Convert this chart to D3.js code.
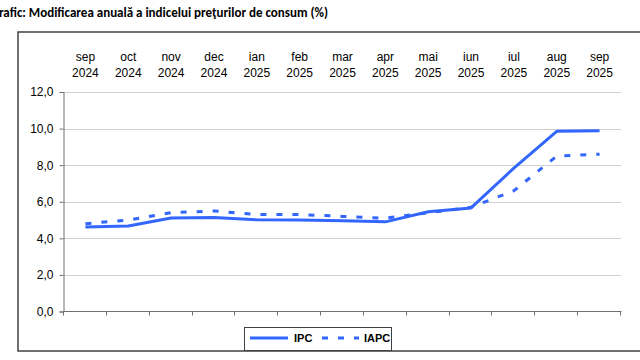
<!doctype html>
<html>
<head>
<meta charset="utf-8">
<style>
  body { margin: 0; background: #fff; }
  svg { display: block; }
  .lbl { font-family: "Liberation Sans", Arial, sans-serif; font-size: 12px; fill: #000; }
</style>
<script src="https://d3js.org/d3.v7.min.js"></script>
</head>
<body>
<svg width="640" height="360"></svg>
<script>
var months = ["sep", "oct", "nov", "dec", "ian", "feb", "mar", "apr", "mai", "iun", "iul", "aug", "sep"];
var years  = ["2024", "2024", "2024", "2024", "2025", "2025", "2025", "2025", "2025", "2025", "2025", "2025", "2025"];
var ipc  = [4.62, 4.67, 5.11, 5.14, 5.01, 5.00, 4.96, 4.90, 5.45, 5.66, 7.84, 9.85, 9.88];
var iapc = [4.8, 5.0, 5.4, 5.5, 5.3, 5.3, 5.2, 5.1, 5.4, 5.7, 6.6, 8.5, 8.6];
var yTicks = [0, 2, 4, 6, 8, 10, 12];

var blue = "#3366ff";
var svg = d3.select("svg");

var x = d3.scaleBand().domain(d3.range(months.length)).range([64, 621]);
var y = d3.scaleLinear().domain([0, 12]).range([311.5, 92]);
var fmt = d3.formatLocale({decimal: ",", thousands: ".", grouping: [3], currency: ["", ""]}).format(".1f");

// title (cut off on the left like the source)
svg.append("text")
  .attr("x", -1).attr("y", 17)
  .style("font-family", "Carlito, 'Liberation Sans Narrow', 'Liberation Sans', sans-serif")
  .style("font-weight", "bold").style("font-size", "13px")
  .text("rafic: Modificarea anuală a indicelui preţurilor de consum (%)");

// outer frame
svg.append("rect")
  .attr("x", 18).attr("y", 32).attr("width", 640).attr("height", 319)
  .attr("fill", "none").attr("stroke", "#404040").attr("stroke-width", 1.5);

// gridlines
svg.append("g").selectAll("line")
  .data(yTicks.filter(function(d) { return d > 0; }))
  .enter().append("line")
  .attr("x1", 64).attr("x2", 621)
  .attr("y1", function(d) { return Math.round(y(d)) + 0.5; })
  .attr("y2", function(d) { return Math.round(y(d)) + 0.5; })
  .attr("stroke", "#d0d0d0");

// y axis
var yAxis = svg.append("g")
  .attr("transform", "translate(63.5,0)")
  .call(d3.axisLeft(y).tickValues(yTicks).tickFormat(fmt).tickSize(4).tickPadding(6));
yAxis.select(".domain").attr("stroke", "#707070");
yAxis.selectAll(".tick line").attr("stroke", "#707070");
yAxis.selectAll("text").attr("class", "lbl").attr("font-family", null).attr("font-size", null);

// x axis with ticks between categories
var xb = svg.append("g").attr("transform", "translate(0,311.5)");
xb.append("line").attr("x1", 63.5).attr("x2", 621.5).attr("stroke", "#707070");
xb.selectAll(".tk")
  .data(d3.range(months.length + 1))
  .enter().append("line")
  .attr("x1", function(i) { return Math.round(64 + i * x.step()) - 0.5; })
  .attr("x2", function(i) { return Math.round(64 + i * x.step()) - 0.5; })
  .attr("y1", 0).attr("y2", 4)
  .attr("stroke", "#707070");

// category labels on top
var cx = function(i) { return x(i) + x.bandwidth() / 2; };
svg.append("g").selectAll("text")
  .data(months).enter().append("text")
  .attr("class", "lbl").attr("text-anchor", "middle")
  .attr("x", function(d, i) { return cx(i); }).attr("y", 61)
  .text(function(d) { return d; });
svg.append("g").selectAll("text")
  .data(years).enter().append("text")
  .attr("class", "lbl").attr("text-anchor", "middle")
  .attr("x", function(d, i) { return cx(i); }).attr("y", 77)
  .text(function(d) { return d; });

var line = d3.line().x(function(d, i) { return cx(i); }).y(function(d) { return y(d); });

svg.append("path").datum(iapc).attr("d", line)
  .attr("fill", "none").attr("stroke", blue).attr("stroke-width", 3)
  .attr("stroke-dasharray", "6,10");
svg.append("path").datum(ipc).attr("d", line)
  .attr("fill", "none").attr("stroke", blue).attr("stroke-width", 3)
  .attr("stroke-linejoin", "round");

// legend
var lg = svg.append("g");
lg.append("rect").attr("x", 244.5).attr("y", 327.5).attr("width", 147).attr("height", 23)
  .attr("fill", "#fff").attr("stroke", "#404040");
lg.append("line").attr("x1", 250).attr("x2", 288).attr("y1", 338).attr("y2", 338)
  .attr("stroke", blue).attr("stroke-width", 3);
lg.append("text").attr("class", "lbl").attr("x", 294).attr("y", 342)
  .style("font-size", "11px").style("font-weight", "bold").text("IPC");
lg.append("line").attr("x1", 322).attr("x2", 359).attr("y1", 338).attr("y2", 338)
  .attr("stroke", blue).attr("stroke-width", 3).attr("stroke-dasharray", "6,10");
lg.append("text").attr("class", "lbl").attr("x", 364).attr("y", 342)
  .style("font-size", "11px").style("font-weight", "bold").text("IAPC");
</script>
</body>
</html>
